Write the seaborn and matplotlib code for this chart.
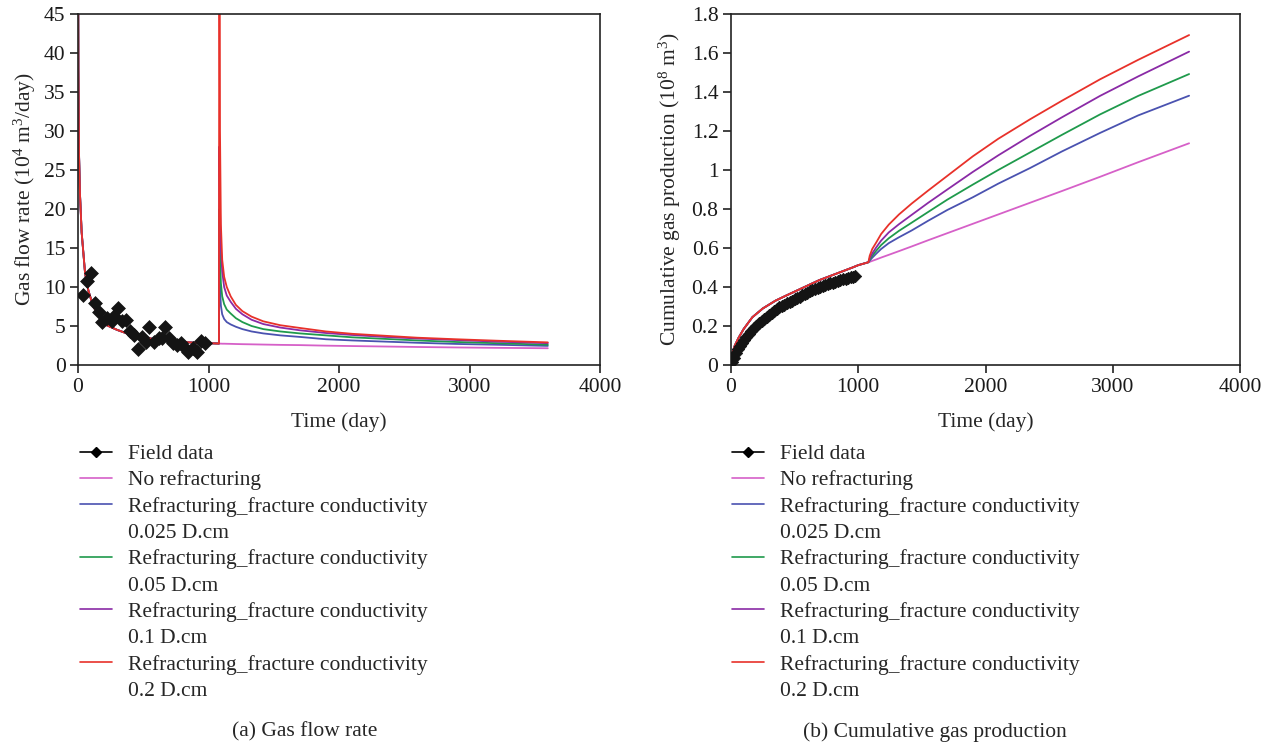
import numpy as np
import pandas as pd
import matplotlib
matplotlib.use("Agg")
import matplotlib.pyplot as plt
from matplotlib.lines import Line2D
from matplotlib.ticker import FuncFormatter, MultipleLocator
import seaborn as sns

# ---------------- data ----------------
# Field measurements of daily gas rate (10^4 m3/day)
field_rate_days = [36, 67, 100, 128, 161, 186, 220, 258, 278, 309, 340, 368, 396, 429,
                   460, 490, 521, 546, 582, 623, 644, 669, 700, 730, 761, 787, 812, 845,
                   879, 909, 940, 970]
field_rate = [9.0, 10.8, 11.8, 8.0, 6.75, 5.55, 6.0, 5.7, 6.3, 7.3, 5.7, 5.8, 4.4, 3.85,
              2.1, 3.6, 2.95, 4.9, 2.9, 3.4, 3.4, 4.9, 3.4, 2.85, 2.55, 2.85, 2.35, 1.7,
              2.2, 1.7, 3.1, 2.8]

# Simulated rate before refracturing (shared by all cases)
rate_days_pre = [0, 3, 8, 15, 28, 54, 80, 117, 160, 220, 300, 373, 450, 552, 650, 756, 900, 1080]
rate_pre = [60, 38, 27, 22, 17, 11.8, 9.5, 7.5, 6.3, 5.1, 4.5, 4.06, 3.7, 3.4, 3.2, 3.0, 2.85, 2.75]

# Simulated rate after refracturing
rate_days_post = [1083, 1088, 1095, 1105, 1120, 1140, 1170, 1210, 1260, 1330, 1420, 1550,
                  1700, 1900, 2100, 2350, 2600, 2900, 3200, 3600]
rate_no_refrac = [2.74, 2.74, 2.74, 2.73, 2.73, 2.72, 2.71, 2.69, 2.67, 2.65, 2.62, 2.58,
                  2.55, 2.48, 2.43, 2.37, 2.31, 2.25, 2.20, 2.15]
rate_fc_0025 = [14, 10, 7.6, 6.5, 5.9, 5.5, 5.2, 4.9, 4.6, 4.3, 4.05, 3.8,
                3.6, 3.3, 3.15, 3.0, 2.85, 2.7, 2.6, 2.45]
rate_fc_005 = [20, 14, 10.5, 8.8, 7.8, 7.1, 6.6, 6.0, 5.5, 5.0, 4.6, 4.3,
               4.05, 3.8, 3.55, 3.35, 3.15, 2.95, 2.8, 2.6]
rate_fc_01 = [28, 20, 15, 12, 10, 8.9, 8.1, 7.2, 6.5, 5.8, 5.25, 4.8,
              4.45, 4.1, 3.85, 3.6, 3.4, 3.2, 3.0, 2.8]
rate_fc_02 = [70, 30, 18, 13.5, 11.3, 10, 8.8, 7.7, 6.9, 6.2, 5.6, 5.1,
              4.75, 4.3, 4.0, 3.75, 3.5, 3.3, 3.12, 2.9]

# Field cumulative production (10^8 m3)
field_cum_days = [10, 25, 40, 55, 70, 85, 100, 120, 140, 160, 180, 200, 220, 240, 260, 280,
                  300, 320, 340, 360, 380, 400, 420, 440, 460, 480, 500, 520, 540, 560, 580,
                  600, 620, 640, 660, 680, 700, 720, 740, 760, 780, 800, 820, 840, 860, 880,
                  900, 920, 940, 960, 975]
field_cum = [0.015, 0.035, 0.060, 0.082, 0.100, 0.114, 0.128, 0.145, 0.160, 0.175, 0.189,
             0.202, 0.215, 0.227, 0.238, 0.248, 0.258, 0.267, 0.277, 0.286, 0.295, 0.303,
             0.310, 0.317, 0.324, 0.330, 0.336, 0.343, 0.350, 0.357, 0.363, 0.370, 0.377,
             0.384, 0.390, 0.396, 0.401, 0.406, 0.411, 0.415, 0.419, 0.423, 0.427, 0.431,
             0.435, 0.439, 0.442, 0.446, 0.449, 0.452, 0.455]

# Simulated cumulative production before refracturing
cum_days_pre = [0, 10, 30, 60, 100, 168, 250, 300, 350, 430, 693, 955, 1000, 1080]
cum_pre = [0.02, 0.06, 0.10, 0.14, 0.185, 0.245, 0.29, 0.31, 0.33, 0.355, 0.435, 0.50, 0.512, 0.527]

# Simulated cumulative production after refracturing
cum_days_post = [1090, 1110, 1140, 1180, 1240, 1320, 1420, 1550, 1700, 1900, 2100, 2350,
                 2600, 2900, 3200, 3600]
cum_no_refrac = [0.529, 0.534, 0.541, 0.551, 0.565, 0.584, 0.608, 0.640, 0.676, 0.724,
                 0.772, 0.832, 0.892, 0.965, 1.040, 1.137]
cum_fc_0025 = [0.535, 0.550, 0.570, 0.595, 0.625, 0.655, 0.690, 0.740, 0.795, 0.860,
               0.930, 1.010, 1.095, 1.190, 1.280, 1.381]
cum_fc_005 = [0.540, 0.560, 0.585, 0.615, 0.650, 0.688, 0.730, 0.785, 0.848, 0.925,
              1.000, 1.090, 1.180, 1.285, 1.380, 1.492]
cum_fc_01 = [0.547, 0.572, 0.602, 0.638, 0.680, 0.722, 0.770, 0.832, 0.900, 0.990,
             1.075, 1.175, 1.270, 1.380, 1.480, 1.607]
cum_fc_02 = [0.560, 0.595, 0.627, 0.672, 0.720, 0.772, 0.828, 0.895, 0.970, 1.070,
             1.160, 1.260, 1.355, 1.465, 1.565, 1.692]

cases = ["No refracturing",
         "Refracturing_fracture conductivity 0.025 D.cm",
         "Refracturing_fracture conductivity 0.05 D.cm",
         "Refracturing_fracture conductivity 0.1 D.cm",
         "Refracturing_fracture conductivity 0.2 D.cm"]
colors = ["#d660c8", "#4a52b0", "#1f9a4c", "#8a2aa6", "#e8312a"]

rate_post = [rate_no_refrac, rate_fc_0025, rate_fc_005, rate_fc_01, rate_fc_02]
cum_post = [cum_no_refrac, cum_fc_0025, cum_fc_005, cum_fc_01, cum_fc_02]


def build_frame(days_pre, vals_pre, days_post, vals_post_list):
    rows = []
    for name, post in zip(cases, vals_post_list):
        for d, v in zip(list(days_pre) + list(days_post), list(vals_pre) + list(post)):
            rows.append({"day": d, "value": v, "case": name})
    return pd.DataFrame(rows)


rate_df = build_frame(rate_days_pre, rate_pre, rate_days_post, rate_post)
cum_df = build_frame(cum_days_pre, cum_pre, cum_days_post, cum_post)

# ---------------- style ----------------
sns.set_theme(style="white")
serif = ["Liberation Serif", "DejaVu Serif"]
plt.rcParams["font.family"] = serif
plt.rcParams["mathtext.fontset"] = "custom"
plt.rcParams["mathtext.rm"] = "Liberation Serif"
plt.rcParams["mathtext.it"] = "Liberation Serif:italic"
FS = 15.5
plt.rcParams.update({
    "axes.edgecolor": "#222222",
    "axes.linewidth": 1.2,
    "xtick.color": "#222222",
    "ytick.color": "#222222",
    "xtick.labelcolor": "#1a1a1a",
    "ytick.labelcolor": "#1a1a1a",
    "xtick.major.size": 6,
    "ytick.major.size": 6,
    "xtick.major.width": 1.2,
    "ytick.major.width": 1.2,
    "xtick.direction": "out",
    "ytick.direction": "out",
    "xtick.bottom": True,
    "ytick.left": True,
})

fig = plt.figure(figsize=(12.81, 7.44), dpi=100)
W, H = 1281, 744
ax1 = fig.add_axes([78 / W, 1 - 365 / H, (600 - 78) / W, (365 - 14) / H])
ax2 = fig.add_axes([731 / W, 1 - 365 / H, (1240 - 731) / W, (365 - 14) / H])

palette = dict(zip(cases, colors))

# (a) gas flow rate
sns.lineplot(data=rate_df, x="day", y="value", hue="case", hue_order=cases,
             palette=palette, estimator=None, sort=False, linewidth=1.3,
             legend=False, ax=ax1)
sns.scatterplot(x=field_rate_days, y=field_rate, marker="D", s=50, color="#141414",
                edgecolor="#141414", linewidth=0.5, ax=ax1, zorder=5)
ax1.set_xlim(0, 4000)
ax1.set_ylim(0, 45)
ax1.yaxis.set_major_locator(MultipleLocator(5))
ax1.xaxis.set_major_locator(MultipleLocator(1000))
ax1.set_xlabel("Time (day)", fontsize=FS, labelpad=11)
ax1.set_ylabel(r"Gas flow rate (10$^{4}$ m$^{3}$/day)", fontsize=FS, labelpad=4)

# (b) cumulative gas production
sns.lineplot(data=cum_df, x="day", y="value", hue="case", hue_order=cases,
             palette=palette, estimator=None, sort=False, linewidth=1.3,
             legend=False, ax=ax2)
sns.scatterplot(x=field_cum_days, y=field_cum, marker="D", s=40, color="#141414",
                edgecolor="#141414", linewidth=0.5, ax=ax2, zorder=5)
ax2.set_xlim(0, 4000)
ax2.set_ylim(0, 1.8)
ax2.yaxis.set_major_locator(MultipleLocator(0.2))
ax2.xaxis.set_major_locator(MultipleLocator(1000))
ax2.yaxis.set_major_formatter(FuncFormatter(lambda v, p: f"{v:.1f}".rstrip("0").rstrip(".") if v else "0"))
ax2.set_xlabel("Time (day)", fontsize=FS, labelpad=11)
ax2.set_ylabel(r"Cumulative gas production (10$^{8}$ m$^{3}$)", fontsize=FS, labelpad=6)

for ax in (ax1, ax2):
    ax.tick_params(labelsize=FS, pad=3)
    for s in ax.spines.values():
        s.set_visible(True)

# legends below each panel
blank = Line2D([], [], linestyle="none", marker=None)
handles = [Line2D([], [], color="black", linewidth=1.2, marker="D", markersize=5),
           Line2D([], [], color=colors[0], linewidth=1.2)]
labels = ["Field data", "No refracturing"]
for c, val in zip(colors[1:], ["0.025", "0.05", "0.1", "0.2"]):
    handles += [Line2D([], [], color=c, linewidth=1.2), blank]
    labels += ["Refracturing_fracture conductivity", f"{val} D.cm"]

for x0 in (80, 732):
    fig.legend(handles, labels, loc="upper left",
               bbox_to_anchor=(x0 / W, 1 - 444 / H), frameon=False,
               fontsize=FS, handlelength=1.5, handletextpad=0.75,
               labelspacing=0.29, borderpad=0, borderaxespad=0)

fig.text(305 / W, 1 - 732 / H, "(a) Gas flow rate", fontsize=15.5,
         ha="center", va="center")
fig.text(935 / W, 1 - 732 / H, "(b) Cumulative gas production", fontsize=15.5,
         ha="center", va="center")

fig.savefig("out.png", dpi=100)
